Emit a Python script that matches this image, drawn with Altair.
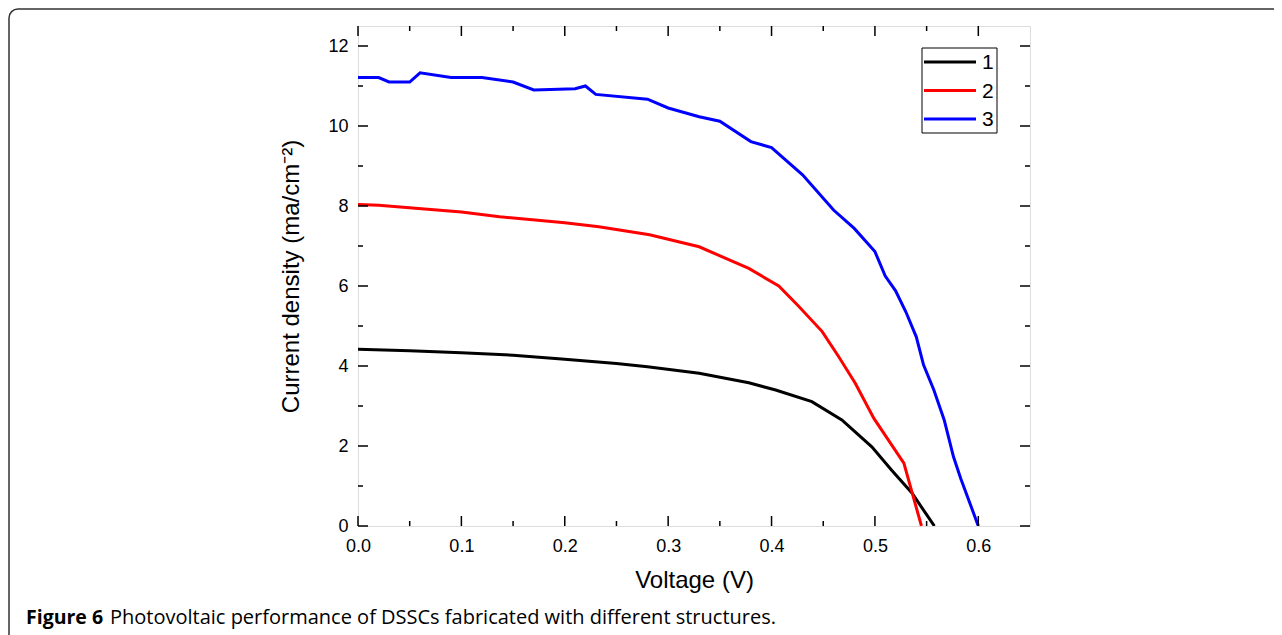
import altair as alt
import pandas as pd

# ---- data ----
v1 = [0.0, 0.05, 0.10, 0.15, 0.20, 0.25, 0.28, 0.33, 0.378, 0.404, 0.439, 0.468, 0.497, 0.516, 0.536, 0.549, 0.5575]
j1 = [4.42, 4.38, 4.33, 4.27, 4.17, 4.06, 3.98, 3.82, 3.58, 3.40, 3.11, 2.65, 1.98, 1.40, 0.82, 0.32, 0.0]

v2 = [0.0, 0.02, 0.10, 0.137, 0.20, 0.233, 0.282, 0.33, 0.378, 0.407, 0.426, 0.449, 0.465, 0.481, 0.499, 0.528, 0.545]
j2 = [8.04, 8.02, 7.85, 7.73, 7.58, 7.48, 7.28, 6.98, 6.44, 6.00, 5.50, 4.86, 4.23, 3.57, 2.69, 1.57, 0.0]

v3 = [0.0, 0.02, 0.03, 0.05, 0.06, 0.09, 0.12, 0.15, 0.17, 0.21, 0.22, 0.23, 0.28, 0.30, 0.33, 0.35,
      0.38, 0.40, 0.43, 0.46, 0.48, 0.50, 0.51, 0.52, 0.53, 0.54, 0.547, 0.557, 0.567, 0.576, 0.583, 0.60]
j3 = [11.21, 11.21, 11.10, 11.10, 11.33, 11.21, 11.21, 11.10, 10.90, 10.93, 11.00, 10.79, 10.67, 10.45, 10.23, 10.12,
      9.61, 9.46, 8.78, 7.90, 7.44, 6.86, 6.25, 5.88, 5.35, 4.73, 4.03, 3.40, 2.65, 1.73, 1.19, 0.0]

series_names = ["1", "2", "3"]
series_colors = ["#000000", "#ff0000", "#0000ff"]

x_major = [0.0, 0.1, 0.2, 0.3, 0.4, 0.5, 0.6]
x_minor = [0.05, 0.15, 0.25, 0.35, 0.45, 0.55]
y_major = [0, 2, 4, 6, 8, 10, 12]
y_minor = [1, 3, 5, 7, 9, 11]

x_title = "Voltage (V)"
y_title = "Current density (ma/cm⁻²)"
caption_bold = "Figure 6"
caption_rest = "Photovoltaic performance of DSSCs fabricated with different structures."

rows = []
for name, vs, js in zip(series_names, [v1, v2, v3], [j1, j2, j3]):
    for i, (a, b) in enumerate(zip(vs, js)):
        rows.append({"v": a, "j": b, "series": name, "order": i})
df = pd.DataFrame(rows)

W, H = 672, 500
FONT = "Liberation Sans"

xs = alt.Scale(domain=[0, 0.65], nice=False, zero=False)
ys = alt.Scale(domain=[0, 12.5], nice=False, zero=False)
cs = alt.Scale(domain=series_names, range=series_colors)

main = alt.Chart(df).mark_line(strokeWidth=3, clip=True).encode(
    x=alt.X("v:Q", scale=xs, axis=alt.Axis(
        values=x_major, format=".1f", ticks=False, domain=False, grid=False,
        labelFlush=False, labelBound=False,
        labelFont=FONT, labelFontSize=18, labelColor="black", labelPadding=11,
        title=x_title, titleFont=FONT, titleFontSize=24, titleFontWeight="normal",
        titleColor="black", titlePadding=13)),
    y=alt.Y("j:Q", scale=ys, axis=alt.Axis(
        values=y_major, format="d", ticks=False, domain=False, grid=False,
        labelFlush=False, labelBound=False,
        labelFont=FONT, labelFontSize=18, labelColor="black", labelPadding=10,
        title=y_title, titleFont=FONT, titleFontSize=24, titleFontWeight="normal",
        titleColor="black", titlePadding=24)),
    color=alt.Color("series:N", scale=cs, legend=None),
    order="order:Q",
)


def xticks(vals, y0, y1):
    return alt.Chart(pd.DataFrame({"v": vals})).mark_rule(
        color="black", strokeWidth=1.5
    ).encode(x=alt.X("v:Q", scale=xs, axis=None), y=alt.value(y0), y2=alt.value(y1))


def yticks(vals, x0, x1):
    return alt.Chart(pd.DataFrame({"j": vals})).mark_rule(
        color="black", strokeWidth=1.5
    ).encode(y=alt.Y("j:Q", scale=ys, axis=None), x=alt.value(x0), x2=alt.value(x1))


tick_layers = [
    xticks(x_major, H, H - 10), xticks(x_minor, H, H - 5),
    xticks(x_major, 0, 10), xticks(x_minor, 0, 5),
    yticks(y_major, 0, 10), yticks(y_minor, 0, 5),
    yticks(y_major, W, W - 10), yticks(y_minor, W, W - 5),
]

# ---- legend (box, line samples, labels) ----
leg_df = pd.DataFrame({"series": series_names})
leg_y = alt.Y("series:N", scale=alt.Scale(type="point", domain=series_names, range=[36, 93], padding=0),
              axis=None)
leg_box = alt.Chart(pd.DataFrame({"k": [0]})).mark_rect(
    fill="white", stroke="black", strokeWidth=1
).encode(x=alt.value(564), x2=alt.value(639), y=alt.value(22), y2=alt.value(107))
leg_lines = alt.Chart(leg_df).mark_rule(strokeWidth=3).encode(
    y=leg_y, x=alt.value(566), x2=alt.value(618),
    color=alt.Color("series:N", scale=cs, legend=None),
)
leg_text = alt.Chart(leg_df).mark_text(
    align="left", baseline="middle", font=FONT, fontSize=21, color="black", dy=1
).encode(y=leg_y, x=alt.value(624), text="series:N")

frame = alt.Chart(pd.DataFrame({"k": [0]})).mark_rect(
    fill=None, stroke="#333333", strokeWidth=1.5, cornerRadius=9
).encode(
    x=alt.value(-349), x2=alt.value(W + 400), y=alt.value(-17), y2=alt.value(H + 300)
)

cap1 = alt.Chart(pd.DataFrame({"t": [caption_bold]})).mark_text(
    align="left", baseline="alphabetic", font="Open Sans", fontSize=19.5,
    fontWeight="bold", color="black"
).encode(text="t:N", x=alt.value(-332), y=alt.value(598))

cap2 = alt.Chart(pd.DataFrame({"t": [caption_rest]})).mark_text(
    align="left", baseline="alphabetic", font="Open Sans", fontSize=20,
    fontWeight="normal", color="black"
).encode(text="t:N", x=alt.value(-248), y=alt.value(598))

chart = alt.layer(
    frame, main, *tick_layers, leg_box, leg_lines, leg_text, cap1, cap2
).resolve_scale(y="independent").resolve_axis(x="independent", y="independent").properties(
    width=W, height=H,
    autosize=alt.AutoSizeParams(type="none"),
    padding={"left": 350, "top": 18, "right": 244, "bottom": 125},
).configure_view(stroke="black", strokeWidth=2).configure(background="white")

chart.save("out.html", embed_options={"renderer": "svg", "actions": False})
